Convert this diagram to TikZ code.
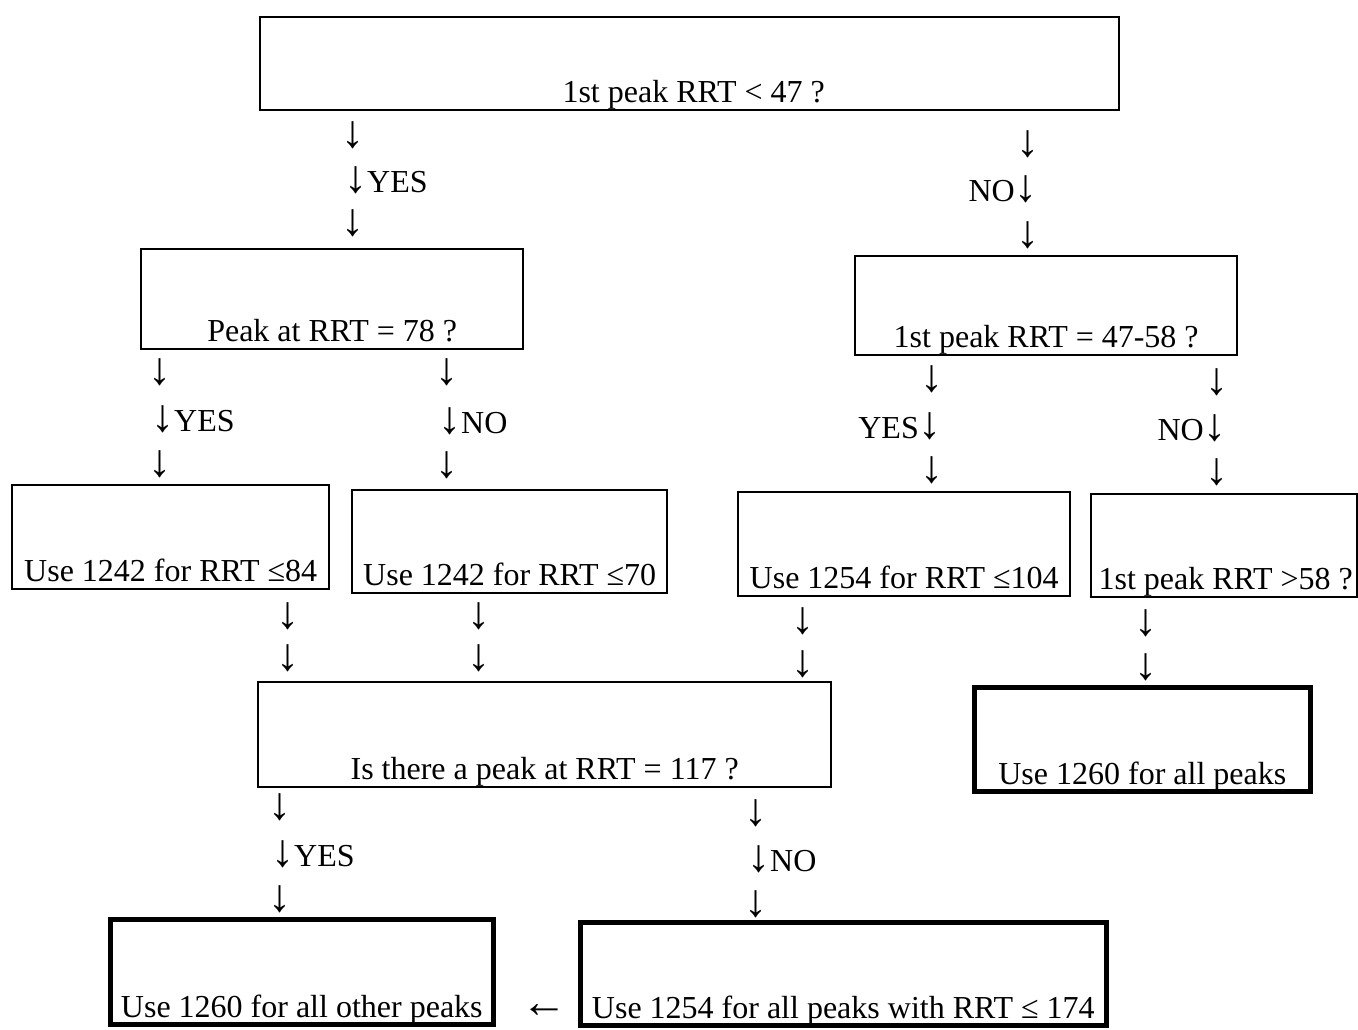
\documentclass[tikz,border=0pt]{standalone}
\usepackage{fontspec}
\setmainfont{Liberation Serif}
\newcommand\dn{{\fontsize{46}{50}\selectfont ↓}}
\newcommand\lf{{\fontsize{46}{50}\selectfont ←}}
\begin{document}
\begin{tikzpicture}[x=1pt,y=-1pt,
  box/.style={draw, line width=2.4pt, inner sep=0pt, text depth=7pt, anchor=south west, font=\fontsize{32}{36}\selectfont},
  thickbox/.style={box, line width=4.6pt},
  arr/.style={inner sep=0pt, anchor=base, font=\fontsize{32}{36}\selectfont},
  arrl/.style={arr, anchor=base west},
  arrr/.style={arr, anchor=base east},
]
\useasboundingbox[fill=white] (0,0) rectangle (1358,1030);

% boxes: anchor south west at (x1,y2); min width = x2-x1; text height = H-7
\node[box, minimum width=859pt, text height=86pt] (q1) at (259,111) {\hspace*{8pt}1st peak RRT < 47 ?};
\node[box, minimum width=382pt, text height=93pt] (q2) at (140,350) {Peak at RRT = 78 ?};
\node[box, minimum width=382pt, text height=92pt] (q3) at (854,356) {1st peak RRT = 47-58 ?};
\node[box, minimum width=317pt, text height=97pt] (r84) at (11,590) {Use 1242 for RRT ≤84};
\node[box, minimum width=315pt, text height=96pt] (r70) at (351,594) {Use 1242 for RRT ≤70};
\node[box, minimum width=332pt, text height=97pt] (r104) at (737,597) {Use 1254 for RRT ≤104};
\node[box, minimum width=266pt, text height=96pt] (q4) at (1090,598) {\hspace*{3pt}1st peak RRT >58 ?};
\node[box, minimum width=573pt, text height=98pt] (q5) at (257,788) {Is there a peak at RRT = 117 ?};
\node[thickbox, minimum width=336pt, text height=97pt] (all) at (972,794) {Use 1260 for all peaks};
\node[thickbox, minimum width=383pt, text height=98pt] (other) at (108,1027) {Use 1260 for all other peaks};
\node[thickbox, minimum width=526pt, text height=96pt] (r174) at (578,1028) {Use 1254 for all peaks with RRT ≤ 174};

% arrow glyphs
\node[arr] (a1) at (353,148) {\dn};
\node[arrl] (a2) at (344,193) {\dn YES};
\node[arr] (a3) at (353,235) {\dn};

\node[arr] (b1) at (1028,157) {\dn};
\node[arrr] (b2) at (1038,201) {NO\dn};
\node[arr] (b3) at (1028,247) {\dn};

\node[arr] (c1) at (160,384) {\dn};
\node[arrl] (c2) at (151,431) {\dn YES};
\node[arr] (c3) at (160,476) {\dn};

\node[arr] (d1) at (447,384) {\dn};
\node[arrl] (d2) at (438,433) {\dn NO};
\node[arr] (d3) at (447,477) {\dn};

\node[arr] (e1) at (932,391) {\dn};
\node[arrr] (e2) at (942,438) {YES\dn};
\node[arr] (e3) at (932,482) {\dn};

\node[arr] (f1) at (1217,394) {\dn};
\node[arrr] (f2) at (1227,440) {NO\dn};
\node[arr] (f3) at (1217,484) {\dn};

\node[arr] (g1) at (288,628) {\dn};
\node[arr] (g2) at (288,670) {\dn};
\node[arr] (h1) at (479,628) {\dn};
\node[arr] (h2) at (479,670) {\dn};
\node[arr] (i1) at (803,633) {\dn};
\node[arr] (i2) at (803,676) {\dn};
\node[arr] (j1) at (1146,635) {\dn};
\node[arr] (j2) at (1146,679) {\dn};

\node[arr] (k1) at (280,819) {\dn};
\node[arrl] (k2) at (271,866) {\dn YES};
\node[arr] (k3) at (280,911) {\dn};

\node[arr] (l1) at (756,825) {\dn};
\node[arrl] (l2) at (747,871) {\dn NO};
\node[arr] (l3) at (756,916) {\dn};

\node[arr] (m) at (544,1017) {\lf};
\end{tikzpicture}
\end{document}
